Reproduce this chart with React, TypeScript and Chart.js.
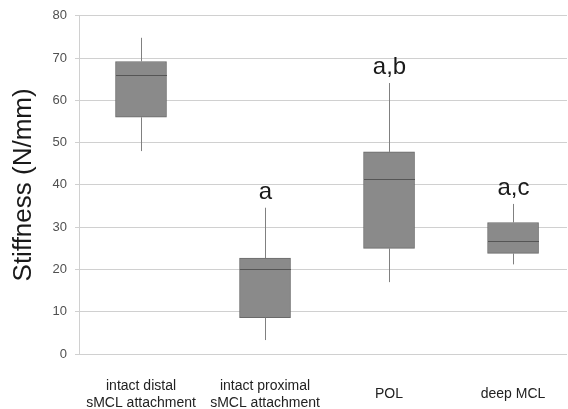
import React, { useEffect, useRef } from "react";
import { Chart, registerables } from "chart.js";

Chart.register(...registerables);

const categories: string[][] = [
  ["intact distal", "sMCL attachment"],
  ["intact proximal", "sMCL attachment"],
  ["POL"],
  ["deep MCL"],
];
const mins = [48.0, 3.3, 17.0, 21.2];
const q1s = [56.0, 8.6, 25.0, 23.8];
const medians = [66.0, 20.2, 41.3, 26.8];
const q3s = [69.2, 22.7, 47.8, 31.1];
const maxs = [74.8, 34.6, 64.1, 35.5];
const annotations = ["", "a", "a,b", "a,c"];
const yTicks = [0, 10, 20, 30, 40, 50, 60, 70, 80];

const FONT = "'Liberation Sans', Arial, sans-serif";

const boxPlugin = {
  id: "boxExtras",
  afterDatasetsDraw(chart: any) {
    const { ctx } = chart;
    const xs = chart.scales.x;
    const ys = chart.scales.y;
    const meta = chart.getDatasetMeta(0);
    ctx.save();
    categories.forEach((_, i) => {
      const cx = Math.round(xs.getPixelForValue(i)) + 0.5;
      const bar = meta.data[i];
      const half = bar ? bar.width / 2 : 25;
      ctx.strokeStyle = "#808080";
      ctx.lineWidth = 1;
      ctx.beginPath();
      ctx.moveTo(cx, ys.getPixelForValue(maxs[i]));
      ctx.lineTo(cx, ys.getPixelForValue(q3s[i]));
      ctx.moveTo(cx, ys.getPixelForValue(q1s[i]));
      ctx.lineTo(cx, ys.getPixelForValue(mins[i]));
      ctx.stroke();
      const my = Math.round(ys.getPixelForValue(medians[i])) + 0.5;
      ctx.strokeStyle = "#555555";
      ctx.beginPath();
      ctx.moveTo(cx - half, my);
      ctx.lineTo(cx + half, my);
      ctx.stroke();
      if (annotations[i]) {
        ctx.fillStyle = "#1a1a1a";
        ctx.font = `24px ${FONT}`;
        ctx.textAlign = "center";
        ctx.textBaseline = "alphabetic";
        ctx.fillText(annotations[i], cx, ys.getPixelForValue(maxs[i]) - 9);
      }
    });
    ctx.restore();
  },
  afterDraw(chart: any) {
    const { ctx } = chart;
    const xs = chart.scales.x;
    ctx.save();
    ctx.fillStyle = "#222222";
    ctx.font = `14px ${FONT}`;
    ctx.textAlign = "center";
    ctx.textBaseline = "middle";
    const lh = 17;
    const centerY = 394.5;
    categories.forEach((lines, i) => {
      const cx = xs.getPixelForValue(i);
      const start = centerY - ((lines.length - 1) * lh) / 2;
      lines.forEach((ln, j) => ctx.fillText(ln, cx, start + j * lh));
    });
    ctx.restore();
  },
};

export default function App() {
  const ref = useRef<HTMLCanvasElement>(null);
  useEffect(() => {
    if (!ref.current) return;
    const chart = new Chart(ref.current, {
      type: "bar",
      data: {
        datasets: [
          {
            data: categories.map((_, i) => ({ x: i, y: [q1s[i], q3s[i]] })) as any,
            backgroundColor: "#8a8a8a",
            borderColor: "#6a6a6a",
            borderWidth: 1,
            borderSkipped: false,
            barThickness: 51,
          },
        ],
      },
      options: {
        responsive: false,
        animation: false,
        layout: { padding: { top: 14, bottom: 55, right: 1, left: 0 } },
        plugins: { legend: { display: false }, tooltip: { enabled: false } },
        scales: {
          x: {
            type: "linear",
            min: -0.5,
            max: 3.435,
            display: false,
            offset: false,
          },
          y: {
            min: 0,
            max: 80,
            afterBuildTicks: (s: any) => {
              s.ticks = yTicks.map((v) => ({ value: v }));
            },
            afterFit: (s: any) => {
              s.width = 79;
            },
            ticks: {
              color: "#505050",
              font: { family: FONT, size: 13 },
              padding: 8,
            },
            grid: { color: "#d0d0d0", lineWidth: 1, tickLength: 4 },
            border: { color: "#d0d0d0" },
            title: {
              display: true,
              text: "Stiffness (N/mm)",
              color: "#1a1a1a",
              font: { family: FONT, size: 26 },
              padding: { top: 8, bottom: 0 },
            },
          },
        },
      },
      plugins: [boxPlugin],
    });
    return () => chart.destroy();
  }, []);
  return (
    <div style={{ position: "fixed", left: 0, top: 0, width: 568, height: 409, background: "#fff" }}>
      <canvas ref={ref} width={568} height={409} />
    </div>
  );
}
